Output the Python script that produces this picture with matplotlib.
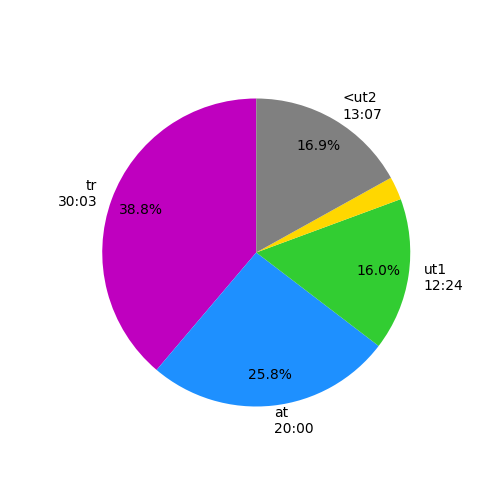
import matplotlib
matplotlib.use("Agg")
import matplotlib.pyplot as plt

labels = ["tr\n30:03", "at\n20:00", "ut1\n12:24", "", "<ut2\n13:07"]
seconds = [1803, 1200, 744, 113, 787]
colors = ["#BF00BF", "#1E90FF", "#32CD32", "#FFD700", "#808080"]

fig = plt.figure(figsize=(5, 5), dpi=100)
ax = fig.add_subplot(111)
ax.pie(seconds, labels=labels, colors=colors, startangle=90,
       autopct=lambda p: f"{p:.1f}%" if p > 5 else "", pctdistance=0.8)
fig.savefig("out.png")
